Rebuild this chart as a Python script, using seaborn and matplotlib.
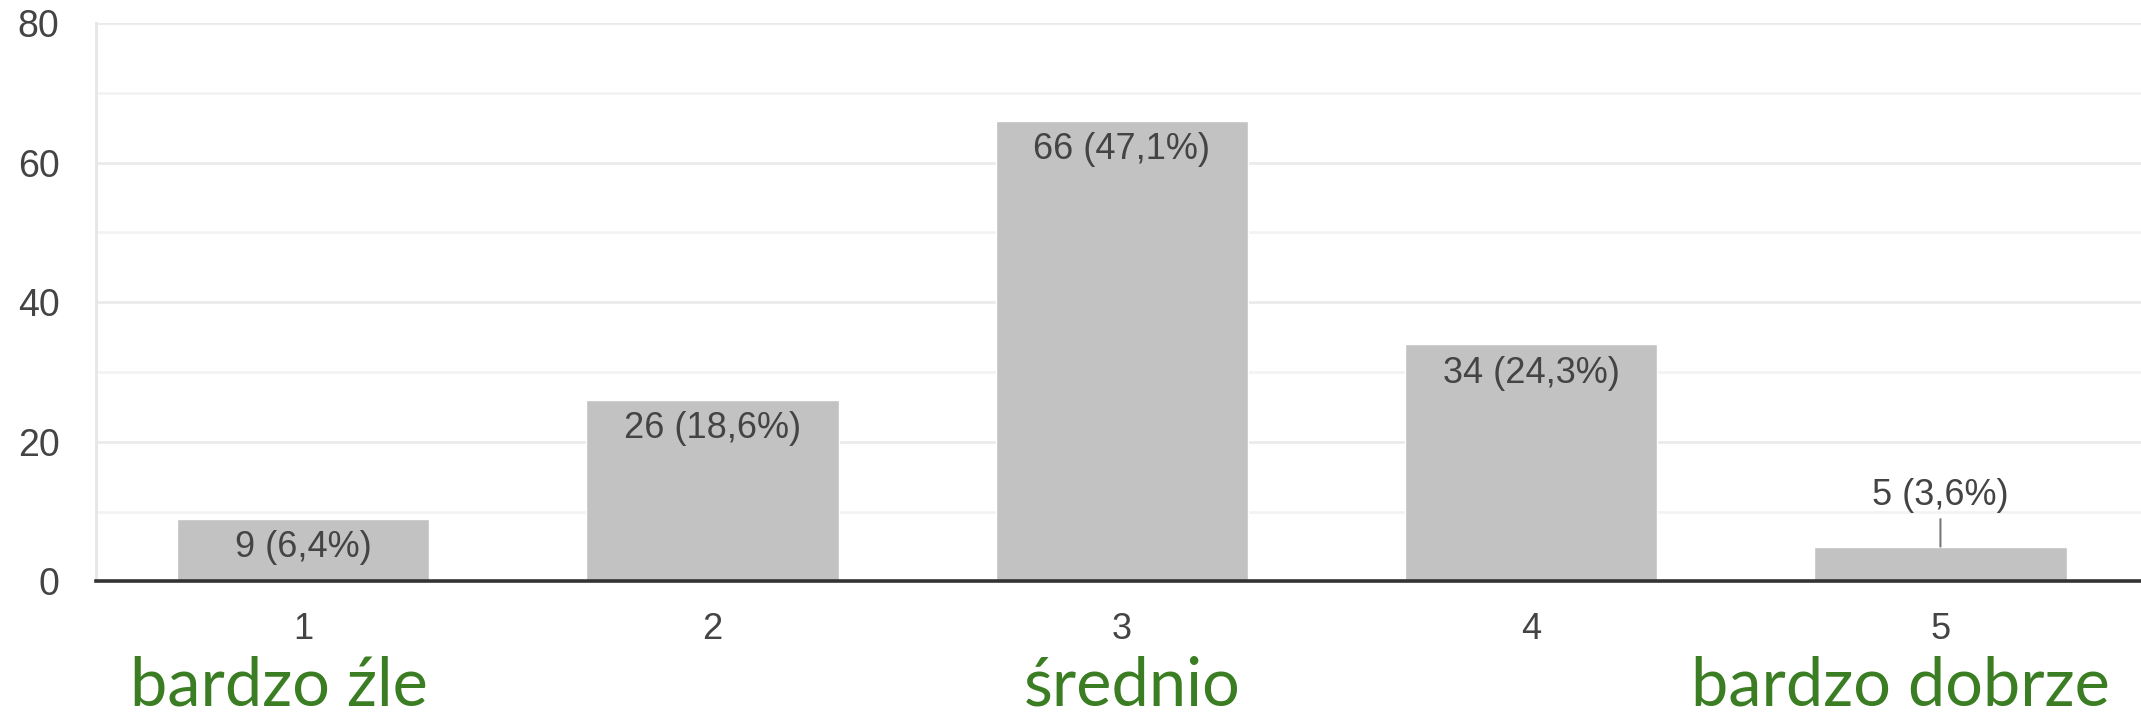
import matplotlib
matplotlib.use("Agg")
import matplotlib.pyplot as plt
import seaborn as sns
import pandas as pd

categories = ["1", "2", "3", "4", "5"]
counts = [9, 26, 66, 34, 5]
percents = ["6,4%", "18,6%", "47,1%", "24,3%", "3,6%"]
scale_labels = ["bardzo źle", "średnio", "bardzo dobrze"]
scale_at = ["1", "3", "5"]

sns.set_theme(style="white")
plt.rcParams['font.family'] = ['Liberation Sans', 'DejaVu Sans']

df = pd.DataFrame({"ocena": categories, "liczba": counts})

fig = plt.figure(figsize=(21.41, 7.14), dpi=100)
ax = fig.add_axes([0.0447, 0.1856, 0.9553, 0.7822])

sns.barplot(data=df, x="ocena", y="liczba", color="#c2c2c2", width=0.617,
            saturation=1, ax=ax)

ax.set_ylim(0, 80)
ax.set_xlim(-0.507, 4.49)
ax.set_yticks([0, 20, 40, 60, 80])
ax.set_yticks([10, 30, 50, 70], minor=True)
ax.grid(axis="y", which="major", color="#ebebeb", lw=2)
ax.grid(axis="y", which="minor", color="#f3f3f3", lw=2)
ax.set_axisbelow(True)
ax.set_xlabel("")
ax.set_ylabel("")
ax.tick_params(axis="both", which="both", length=0, labelsize=26, labelcolor="#444444")
ax.tick_params(axis="y", labelsize=27, pad=26)
ax.tick_params(axis="x", pad=22)

for s in ["top", "right"]:
    ax.spines[s].set_visible(False)
ax.spines["left"].set_color("#e6e6e6")
ax.spines["left"].set_linewidth(2)
ax.spines["bottom"].set_color("#333333")
ax.spines["bottom"].set_linewidth(2.6)

for i, (v, p) in enumerate(zip(counts, percents)):
    label = f"{v} ({p})"
    if v >= 8:
        ax.annotate(label, xy=(i, v), xytext=(0, -29), textcoords="offset pixels",
                    ha="center", va="center", fontsize=26, color="#444444")
    else:
        ax.annotate(label, xy=(i, v), xytext=(0, 51), textcoords="offset pixels",
                    ha="center", va="center", fontsize=26, color="#444444",
                    arrowprops=dict(arrowstyle="-", color="#777777", lw=1.5,
                                    shrinkA=2, shrinkB=0))

offsets = {"1": -0.06, "3": 0.025, "5": -0.098}
for lab, cat in zip(scale_labels, scale_at):
    x = categories.index(cat) + offsets[cat]
    ax.text(x, -17.8, lab, ha="center", va="baseline", fontsize=48,
            color="#3a7d22", family=["Lato", "DejaVu Sans"], clip_on=False)

fig.savefig("out.png", dpi=100)
